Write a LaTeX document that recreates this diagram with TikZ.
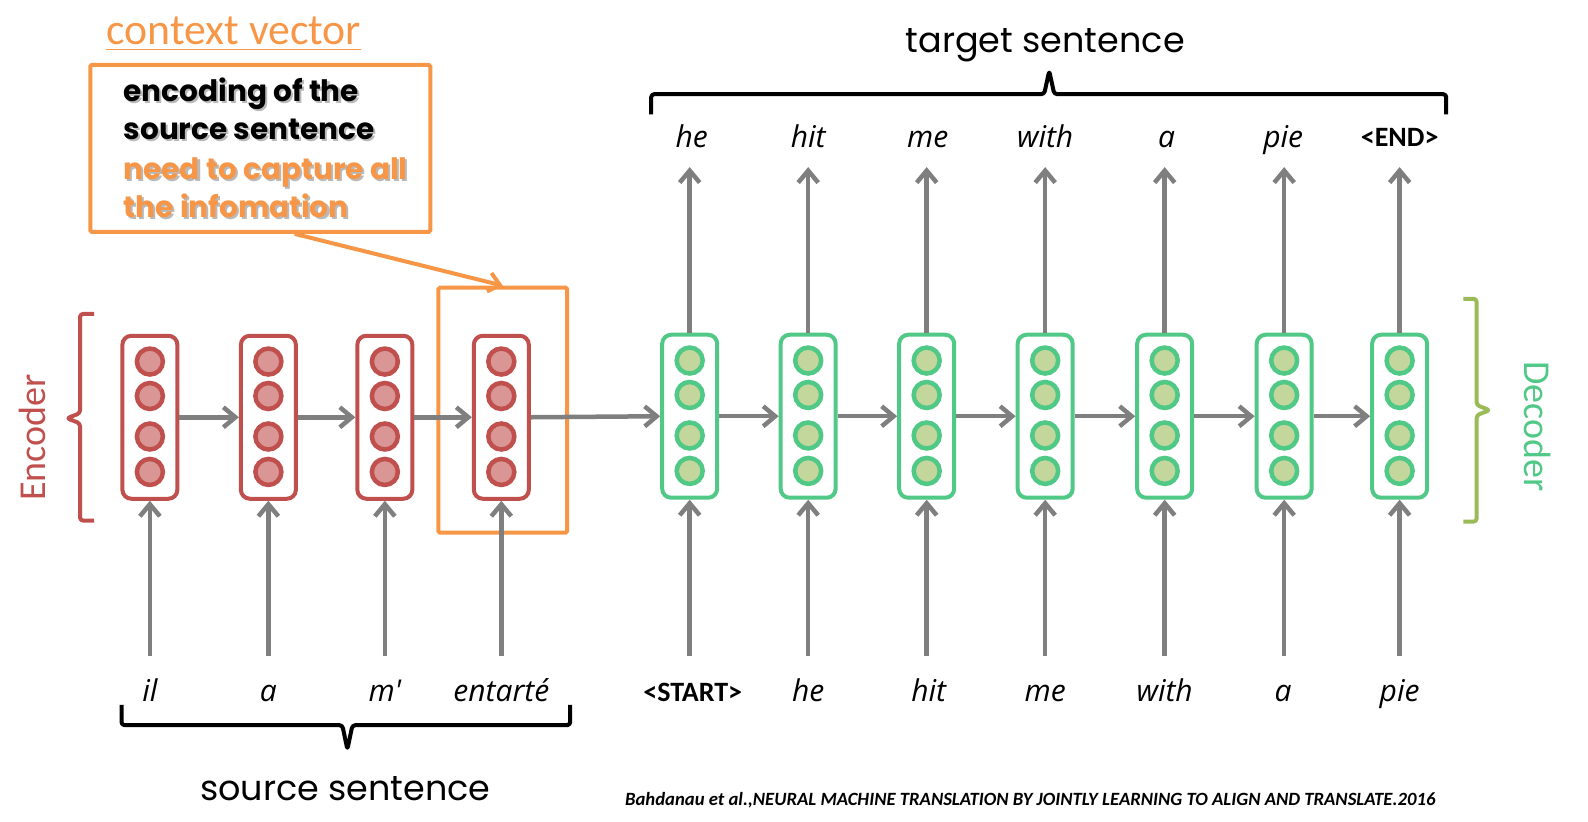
\documentclass[tikz,border=0pt]{standalone}
\usepackage{fontspec}
\setmainfont{Carlito}
\newfontfamily\comic{Poppins}
\newfontfamily\hand{Open Sans}
\usetikzlibrary{arrows.meta,calc}
\definecolor{encred}{RGB}{192,80,77}
\definecolor{encfill}{RGB}{217,150,148}
\definecolor{decgreen}{RGB}{80,200,134}
\definecolor{decfill}{RGB}{195,214,155}
\definecolor{decbrace}{RGB}{155,187,89}
\definecolor{orng}{RGB}{247,150,70}
\definecolor{arrgray}{RGB}{127,127,127}
\definecolor{shadowgray}{RGB}{185,185,185}
\begin{document}
\begin{tikzpicture}[x=1.0128bp,y=-1.0128bp,
  ecell/.style={draw=encred, line width=4bp, rounded corners=9bp, fill=white, minimum width=55bp, minimum height=163bp, inner sep=0pt},
  dcell/.style={ecell, draw=decgreen},
  ecirc/.style={circle, draw=encred, fill=encfill, line width=4.5bp, minimum size=26bp, inner sep=0pt},
  dcirc/.style={ecirc, draw=decgreen, fill=decfill},
  arr/.style={draw=arrgray, line width=4.5bp, -{Straight Barb[length=12bp,width=20bp]}},
  oarr/.style={draw=orng, line width=4bp, -{Straight Barb[length=11bp,width=19bp]}},
  handw/.style={font=\hand\itshape\fontsize{30bp}{36bp}\selectfont, anchor=base, inner sep=0pt},
  tok/.style={font=\bfseries\fontsize{28bp}{32bp}\selectfont, anchor=base, inner sep=0pt},
  boxtxt/.style={font=\comic\bfseries\fontsize{29.5bp}{36bp}\selectfont, anchor=base west, inner sep=0pt},
  brace/.style={line width=4bp, rounded corners=3bp, line join=round},
  bigtxt/.style={font=\comic\fontsize{35bp}{40bp}\selectfont, anchor=base, inner sep=0pt}
]
\useasboundingbox (0,0) rectangle (1568,811);

% context vector label and box
\node[font=\fontsize{43.7bp}{48bp}\selectfont, text=orng, anchor=base west, inner sep=0pt] (cvt) at (105,44) {context vector};
\draw[orng, line width=1.5bp] ($(cvt.base west)+(0,5)$) -- ($(cvt.base east)+(0,5)$);
\node[draw=orng, line width=4bp, rounded corners=1.5bp, minimum width=340bp, minimum height=167bp, inner sep=0pt] (ctx) at (257,146.5) {};
\foreach \t/\yy/\c in {encoding of the/100/black, source sentence/138/black, need to capture all/177/orng, the infomation/215/orng} {
  \node[boxtxt, text=shadowgray] at (124,\yy+2) {\t};
  \node[boxtxt, text=\c] at (122,\yy) {\t};
}

% highlight of last encoder state
\node[draw=orng, line width=4bp, rounded corners=1.5bp, minimum width=128.7bp, minimum height=245bp, inner sep=0pt] (hl) at (496.5,405) {};
\draw[oarr] ($(ctx.south west)!0.6!(ctx.south east)$) -- (hl.north);

% encoder cells
\foreach \i/\x in {1/148,2/265,3/380,4/495} {
  \node[ecell] (e\i) at (\x,412) {};
  \foreach \dy [count=\j] in {-55,-21,19,54}
    \node[ecirc] (e\i c\j) at (\x,412+\dy) {};
}
% decoder cells
\foreach \i/\x in {1/681,2/798,3/915,4/1032,5/1150,6/1268,7/1382} {
  \node[dcell] (d\i) at (\x,411) {};
  \foreach \dy [count=\j] in {-55,-21,19,54}
    \node[dcirc] (d\i c\j) at (\x,411+\dy) {};
}

% recurrent arrows
\draw[arr] (e1.east) -- (e2.west);
\draw[arr] (e2.east) -- (e3.west);
\draw[arr] (e3.east) -- (e4.west);
\draw[arr] (e4.east) -- (d1.west);
\foreach \a/\b in {1/2,2/3,3/4,4/5,5/6,6/7}
  \draw[arr] (d\a.east) -- (d\b.west);

% input words
\foreach \i/\x/\w in {1/148/il,2/265/a,3/380/m',4/495/entart\'e} {
  \coordinate (ein\i) at (\x,648);
  \draw[arr] (ein\i) -- (e\i.south);
  \node[handw] (ew\i) at (\x,693) {\w};
}
\foreach \i/\x in {1/681,2/798,3/915,4/1032,5/1150,6/1268,7/1382} {
  \coordinate (din\i) at (\x,648);
  \draw[arr] (din\i) -- (d\i.south);
  \coordinate (dout\i) at (\x,165);
  \draw[arr] (d\i.north) -- (dout\i);
}
\node[tok] (dw1) at (684,693) {<START>};
\foreach \i/\x/\w in {2/798/he,3/917/hit,4/1032/me,5/1150/with,6/1267/a,7/1382/pie}
  \node[handw] (dw\i) at (\x,693) {\w};

% output words
\foreach \i/\x/\w in {1/683/he,2/798/hit,3/916/me,4/1032/with,5/1152/a,6/1267/pie}
  \node[handw] (ow\i) at (\x,146) {\w};
\node[tok] (ow7) at (1382,145) {<END>};

% target brace
\draw[brace, black] (643,113) -- (643,93) -- (1031,93) -- (1036,70) -- (1041,93) -- (1428,93) -- (1428,113);
\node[bigtxt] (tgt) at (1032,52) {target sentence};
% source brace
\draw[brace, black] (120,696) -- (120,716) -- (338,716) -- (343,740) -- (348,716) -- (563,716) -- (563,696);
\node[bigtxt] (src) at (341,790) {source sentence};

% encoder brace
\draw[brace, encred] (93,310) -- (79,310) -- (79,408) -- (66,413) -- (79,418) -- (79,514) -- (93,514);
\node[font=\fontsize{38bp}{42bp}\selectfont, text=encred, rotate=90, inner sep=0pt] (enc) at (32,432) {Encoder};
% decoder brace
\draw[brace, decbrace] (1445,295) -- (1458,295) -- (1458,400) -- (1471,405) -- (1458,410) -- (1458,515) -- (1445,515);
\node[font=\fontsize{38bp}{42bp}\selectfont, text=decgreen, rotate=-90, inner sep=0pt] (dec) at (1518,421) {Decoder};

% citation
\node[font=\bfseries\itshape\fontsize{18.7bp}{22bp}\selectfont, anchor=base west, inner sep=0pt] (cite) at (617,795) {Bahdanau et al.,NEURAL MACHINE TRANSLATION BY JOINTLY LEARNING TO ALIGN AND TRANSLATE.2016};
\end{tikzpicture}
\end{document}
